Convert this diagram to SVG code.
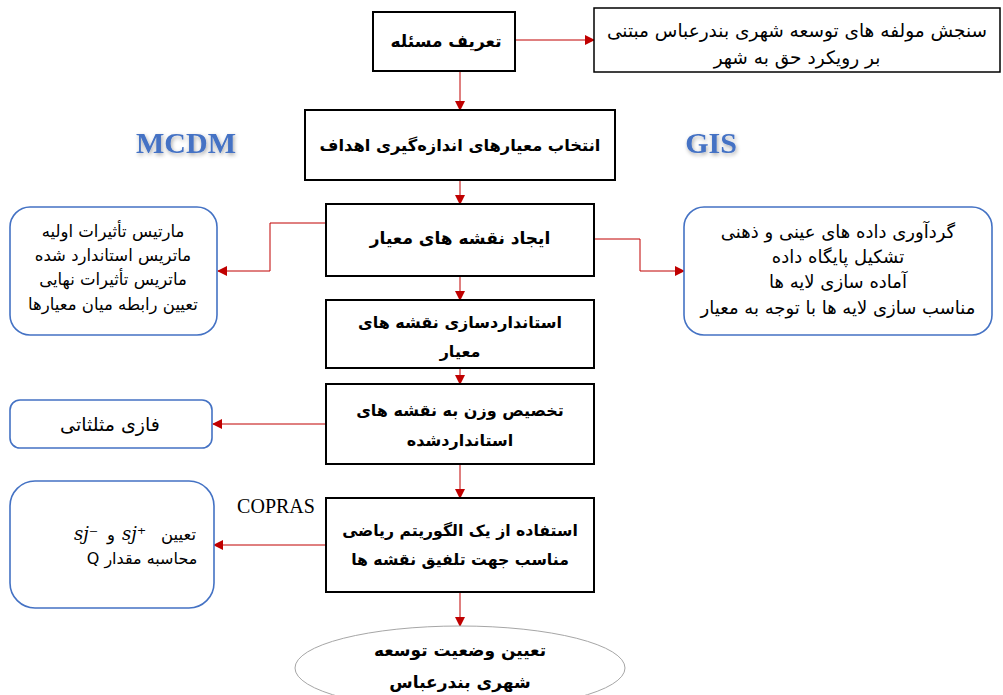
<svg xmlns="http://www.w3.org/2000/svg" width="1003" height="695" viewBox="0 0 1003 695">
<defs>
<style>
.box{fill:#fff;stroke:#000;stroke-width:2}
.rbox{fill:#fff;stroke:#4472C4;stroke-width:1.6}
.ell{fill:#fff;stroke:#A6A6A6;stroke-width:1}
.conn{fill:none;stroke:#C00000;stroke-width:1}
.tb{font-family:"DejaVu Sans",sans-serif;font-weight:bold;font-size:16px;fill:#000;text-anchor:middle}
.tr{font-family:"DejaVu Sans",sans-serif;font-size:16.5px;fill:#000;text-anchor:middle}
.lbl{font-family:"Liberation Serif",serif;font-weight:bold;font-size:30px;fill:#4472C4;text-anchor:middle}
.cop{font-family:"Liberation Serif",serif;font-size:20px;fill:#000;text-anchor:middle}
.math{font-family:"DejaVu Serif",serif;font-style:italic;font-size:18px;fill:#000}
</style>
<marker id="ah" markerWidth="10" markerHeight="10" refX="9" refY="5" orient="auto" markerUnits="userSpaceOnUse">
<path d="M0,0 L10,5 L0,10 z" fill="#C00000"/>
</marker>
<filter id="sh" x="-20%" y="-30%" width="140%" height="160%">
<feGaussianBlur in="SourceAlpha" stdDeviation="2"/>
<feOffset dx="1" dy="2" result="b"/>
<feComponentTransfer><feFuncA type="linear" slope="0.35"/></feComponentTransfer>
<feMerge><feMergeNode/><feMergeNode in="SourceGraphic"/></feMerge>
</filter>
</defs>
<rect width="1003" height="695" fill="#fff"/>

<g id="connectors">
<path class="conn" d="M515,40 H594" marker-end="url(#ah)"/>
<path class="conn" d="M460,71 V110" marker-end="url(#ah)"/>
<path class="conn" d="M460,180 V204" marker-end="url(#ah)"/>
<path class="conn" d="M460,276 V300" marker-end="url(#ah)"/>
<path class="conn" d="M460,368 V384" marker-end="url(#ah)"/>
<path class="conn" d="M460,464 V498" marker-end="url(#ah)"/>
<path class="conn" d="M460,592 V626" marker-end="url(#ah)"/>
<path class="conn" d="M326,223 H270 V271 H218" marker-end="url(#ah)"/>
<path class="conn" d="M594,239 H640 V271 H684" marker-end="url(#ah)"/>
<path class="conn" d="M326,424 H213" marker-end="url(#ah)"/>
<path class="conn" d="M326,545 H214" marker-end="url(#ah)"/>
</g>

<g id="n1">
<rect class="box" x="373" y="12" width="142" height="59"/>
<text class="tb" x="446" y="47" style="font-size:17px">تعریف مسئله</text>
</g>
<g id="n1b">
<rect class="box" x="594" y="8" width="406" height="64" style="stroke-width:1.5"/>
<text class="tr" x="797" y="37" style="font-size:18.5px">سنجش مولفه های توسعه شهری بندرعباس مبتنی</text>
<text class="tr" x="797" y="64" style="font-size:18.5px">بر رویکرد حق به شهر</text>
</g>
<g id="n2">
<rect class="box" x="305" y="110" width="310" height="70"/>
<text class="tb" x="460" y="151" style="font-size:16.3px">انتخاب معیارهای اندازه‌گیری اهداف</text>
</g>
<g id="mcdm"><text class="lbl" x="186" y="153" filter="url(#sh)">MCDM</text></g>
<g id="gis"><text class="lbl" x="711" y="153" filter="url(#sh)">GIS</text></g>
<g id="n3">
<rect class="box" x="326" y="204" width="268" height="72"/>
<text class="tb" x="460" y="244" style="font-size:17px">ایجاد نقشه های معیار</text>
</g>
<g id="n4">
<rect class="box" x="326" y="300" width="268" height="68"/>
<text class="tb" x="460" y="328">استانداردسازی نقشه های</text>
<text class="tb" x="460" y="357">معیار</text>
</g>
<g id="n5">
<rect class="box" x="326" y="384" width="268" height="80"/>
<text class="tb" x="460" y="416">تخصیص وزن به نقشه های</text>
<text class="tb" x="460" y="446">استانداردشده</text>
</g>
<g id="n6">
<rect class="box" x="326" y="498" width="268" height="94"/>
<text class="tb" x="460" y="536" style="font-size:15.7px">استفاده از یک الگوریتم ریاضی</text>
<text class="tb" x="460" y="565" style="font-size:15.7px">مناسب جهت تلفیق نقشه ها</text>
</g>
<g id="n7">
<ellipse class="ell" cx="460" cy="668" rx="165" ry="42"/>
<text class="tb" x="460" y="656" style="font-size:17px">تعیین وضعیت توسعه</text>
<text class="tb" x="460" y="688" style="font-size:17px">شهری بندرعباس</text>
</g>
<g id="l1">
<rect class="rbox" x="10" y="207" width="207" height="128" rx="20"/>
<text class="tr" x="113" y="237">مارتیس تأثیرات اولیه</text>
<text class="tr" x="113" y="261">ماتریس استاندارد شده</text>
<text class="tr" x="113" y="285">ماتریس تأثیرات نهایی</text>
<text class="tr" x="113" y="310">تعیین رابطه میان معیارها</text>
</g>
<g id="r1">
<rect class="rbox" x="684" y="207" width="308" height="128" rx="20"/>
<text class="tr" x="838" y="238" style="font-size:18px">گردآوری داده های عینی و ذهنی</text>
<text class="tr" x="838" y="263" style="font-size:18px">تشکیل پایگاه داده</text>
<text class="tr" x="838" y="288" style="font-size:18px">آماده سازی لایه ها</text>
<text class="tr" x="838" y="314" style="font-size:18px">مناسب سازی لایه ها با توجه به معیار</text>
</g>
<g id="l2">
<rect class="rbox" x="10" y="400" width="202" height="48" rx="10"/>
<text class="tr" x="110" y="431" style="font-size:19px">فازی مثلثاتی</text>
</g>
<g id="copras"><text class="cop" x="276" y="513">COPRAS</text></g>
<g id="l3">
<rect class="rbox" x="10" y="481" width="204" height="127" rx="25"/>
<text class="tr" x="196" y="540" style="text-anchor:end">تعیین</text>
<text class="math" x="122" y="540">sj⁺</text>
<text class="tr" x="111" y="540">و</text>
<text class="math" x="74" y="540">sj⁻</text>
<text class="tr" x="142" y="564" direction="rtl" style="font-size:16px">محاسبه مقدار Q</text>
</g>
</svg>
